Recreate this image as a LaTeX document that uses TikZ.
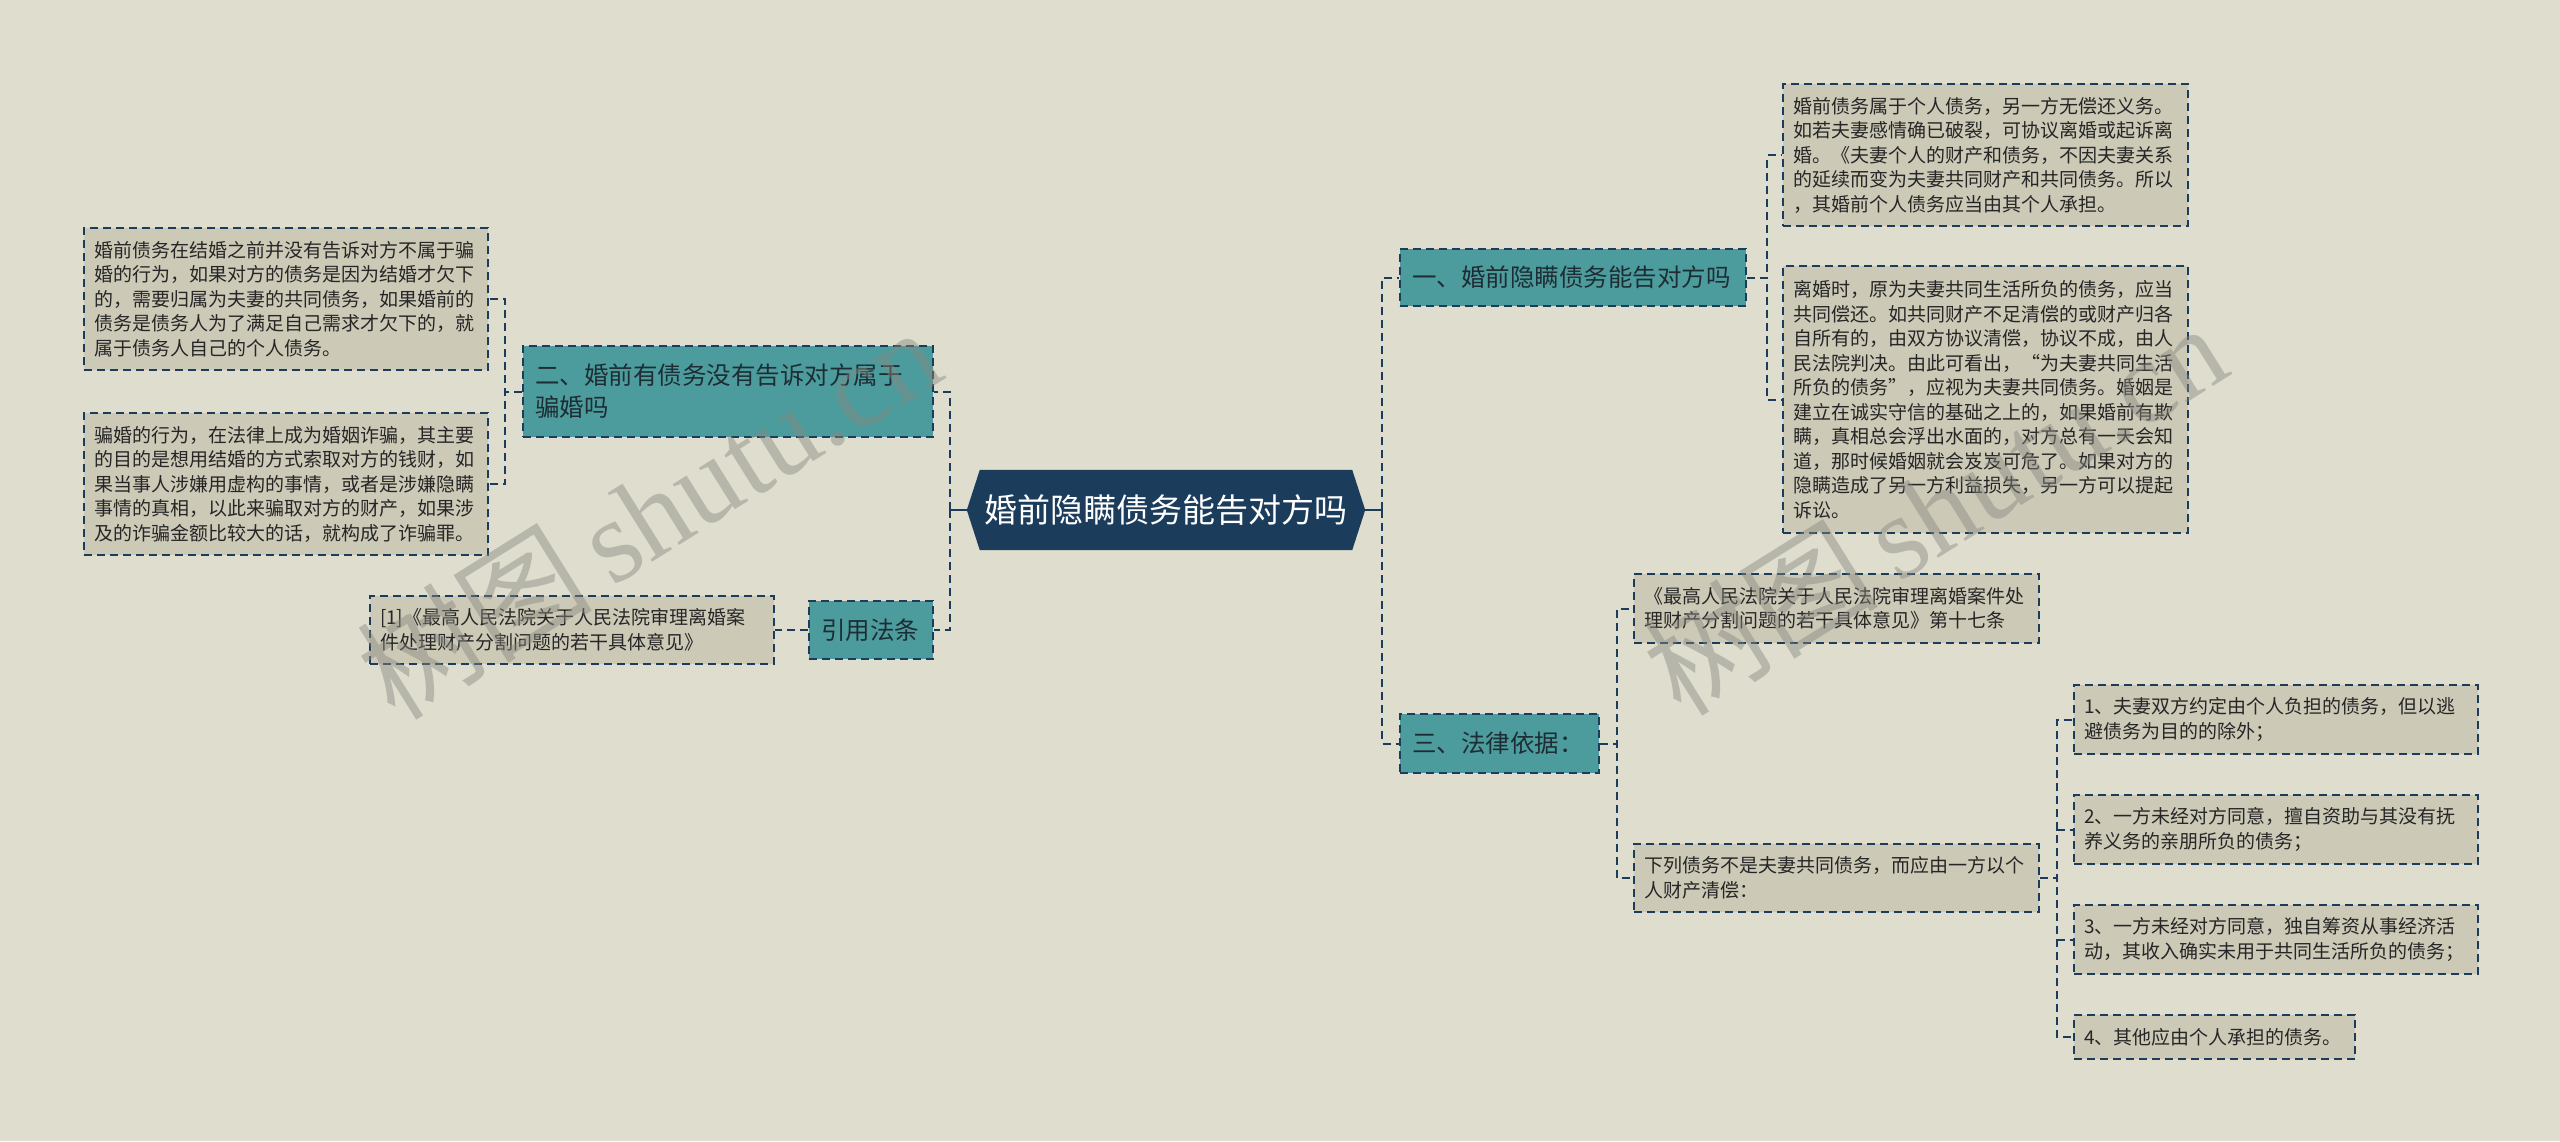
\documentclass[tikz,border=0pt]{standalone}
\usepackage{fontspec}
\newfontfamily\cjk{Noto Sans CJK SC}
\newfontfamily\wmserif{Liberation Serif}
\usetikzlibrary{calc}
\definecolor{bgc}{RGB}{222,221,206}
\definecolor{leaffill}{RGB}{204,201,183}
\definecolor{tealc}{RGB}{76,156,158}
\definecolor{navy}{RGB}{27,61,91}
\definecolor{txt}{RGB}{38,38,38}
\definecolor{topictxt}{RGB}{30,45,52}
\definecolor{wm}{RGB}{135,135,127}
\pgfdeclarelayer{bg}
\pgfsetlayers{bg,main}
\begin{document}
\begin{tikzpicture}[x=1pt,y=-1pt,
 dashline/.style={draw=navy, line width=2pt, dash pattern=on 8pt off 5pt},
 conn/.style={dashline},
 stub/.style={draw=navy, line width=2.5pt},
 leaf/.style={dashline, fill=leaffill, text=txt, anchor=north west, align=left, inner xsep=10pt, inner ysep=0pt, font=\cjk\fontsize{19}{24.5}\selectfont},
 topic/.style={dashline, fill=tealc, text=topictxt, anchor=north west, align=left, inner xsep=12pt, inner ysep=0pt, font=\cjk\fontsize{24.5}{32}\selectfont},
 mainst/.style={text=white, minimum width=398pt, minimum height=80pt, inner sep=0pt, font=\cjk\fontsize{33}{40}\selectfont},
 wmark/.style={rotate=32, text=wm, opacity=0.45, inner sep=0pt, font=\cjk\fontsize{118}{118}\selectfont}
]
\useasboundingbox (0,0) rectangle (2560,1141);

% center
\node[mainst] (c) at (1166,510) {婚前隐瞒债务能告对方吗};

% topics
\node[topic, text width=322pt, minimum height=57pt] (n1) at (1399,248) {一、婚前隐瞒债务能告对方吗};
\node[topic, text width=386pt, minimum height=91pt] (n2) at (522,345) {二、婚前有债务没有告诉对方属于\\骗婚吗};
\node[topic, text width=175pt, minimum height=59pt] (n3) at (1399,713) {三、法律依据：};
\node[topic, text width=100pt, minimum height=58pt] (ny) at (808,600) {引用法条};

% leaves left
\node[leaf, text width=384pt, minimum height=142pt] (L1) at (83,227) {婚前债务在结婚之前并没有告诉对方不属于骗\\婚的行为，如果对方的债务是因为结婚才欠下\\的，需要归属为夫妻的共同债务，如果婚前的\\债务是债务人为了满足自己需求才欠下的，就\\属于债务人自己的个人债务。};
\node[leaf, text width=384pt, minimum height=142pt] (L2) at (83,412) {骗婚的行为，在法律上成为婚姻诈骗，其主要\\的目的是想用结婚的方式索取对方的钱财，如\\果当事人涉嫌用虚构的事情，或者是涉嫌隐瞒\\事情的真相，以此来骗取对方的财产，如果涉\\及的诈骗金额比较大的话，就构成了诈骗罪。};
\node[leaf, text width=384pt, minimum height=68pt] (cit) at (369,595) {[1]《最高人民法院关于人民法院审理离婚案\\件处理财产分割问题的若干具体意见》};

% leaves right
\node[leaf, text width=385pt, minimum height=142pt] (A) at (1782,83) {婚前债务属于个人债务，另一方无偿还义务。\\如若夫妻感情确已破裂，可协议离婚或起诉离\\婚。《夫妻个人的财产和债务，不因夫妻关系\\的延续而变为夫妻共同财产和共同债务。所以\\，其婚前个人债务应当由其个人承担。};
\node[leaf, text width=385pt, minimum height=267pt] (B) at (1782,265) {离婚时，原为夫妻共同生活所负的债务，应当\\共同偿还。如共同财产不足清偿的或财产归各\\自所有的，由双方协议清偿，协议不成，由人\\民法院判决。由此可看出，“为夫妻共同生活\\所负的债务”，应视为夫妻共同债务。婚姻是\\建立在诚实守信的基础之上的，如果婚前有欺\\瞒，真相总会浮出水面的，对方总有一天会知\\道，那时候婚姻就会岌岌可危了。如果对方的\\隐瞒造成了另一方利益损失，另一方可以提起\\诉讼。};
\node[leaf, text width=385pt, minimum height=69pt] (C) at (1633,573) {《最高人民法院关于人民法院审理离婚案件处\\理财产分割问题的若干具体意见》第十七条};
\node[leaf, text width=385pt, minimum height=68pt] (D) at (1633,843) {下列债务不是夫妻共同债务，而应由一方以个\\人财产清偿：};
\node[leaf, text width=384pt, minimum height=69pt] (E1) at (2073,684) {1、夫妻双方约定由个人负担的债务，但以逃\\避债务为目的的除外；};
\node[leaf, text width=384pt, minimum height=69pt] (E2) at (2073,794) {2、一方未经对方同意，擅自资助与其没有抚\\养义务的亲朋所负的债务；};
\node[leaf, text width=384pt, minimum height=69pt] (E3) at (2073,904) {3、一方未经对方同意，独自筹资从事经济活\\动，其收入确实未用于共同生活所负的债务；};
\node[leaf, text width=261pt, minimum height=44pt] (E4) at (2073,1014) {4、其他应由个人承担的债务。};

\begin{pgfonlayer}{bg}
\fill[bgc] (0,0) rectangle (2560,1141);
\fill[navy] (c.west) -- ([xshift=13pt]c.north west) -- ([xshift=-13pt]c.north east) -- (c.east) -- ([xshift=-13pt]c.south east) -- ([xshift=13pt]c.south west) -- cycle;
\end{pgfonlayer}

% connectors
\coordinate (rj) at ($(c.east)+(17,0)$);
\coordinate (lj) at ($(c.west)+(-17,0)$);
\draw[stub] (c.east) -- (rj);
\draw[stub] (c.west) -- (lj);
\draw[stub] ($(rj)+(0,-8)$) -- ($(rj)+(0,8)$);
\draw[stub] ($(lj)+(0,-8)$) -- ($(lj)+(0,8)$);
\draw[conn] (rj) |- (n1.west);
\draw[conn] (rj) |- (n3.west);
\draw[conn] (lj) |- (n2.east);
\draw[conn] (lj) |- (ny.east);

\draw[conn] (n2.west) -- ++(-17,0) |- (L1.east);
\draw[conn] (n2.west) -- ++(-17,0) |- (L2.east);
\draw[conn] (ny.west) -- (cit.east);

\draw[conn] (n1.east) -- ++(20,0) |- (A.west);
\draw[conn] (n1.east) -- ++(20,0) |- (B.west);
\draw[conn] (n3.east) -- ++(17,0) |- (C.west);
\draw[conn] (n3.east) -- ++(17,0) |- (D.west);
\draw[conn] (D.east) -- ++(17,0) |- (E1.west);
\draw[conn] (D.east) -- ++(17,0) |- (E2.west);
\draw[conn] (D.east) -- ++(17,0) |- (E3.west);
\draw[conn] (D.east) -- ++(17,0) |- (E4.west);

% watermarks
\node[wmark] (wm1) at (648,512) {树图\,{\wmserif shutu.cn}};
\node[wmark] (wm2) at (1934,508) {树图\,{\wmserif shutu.cn}};
\end{tikzpicture}
\end{document}
